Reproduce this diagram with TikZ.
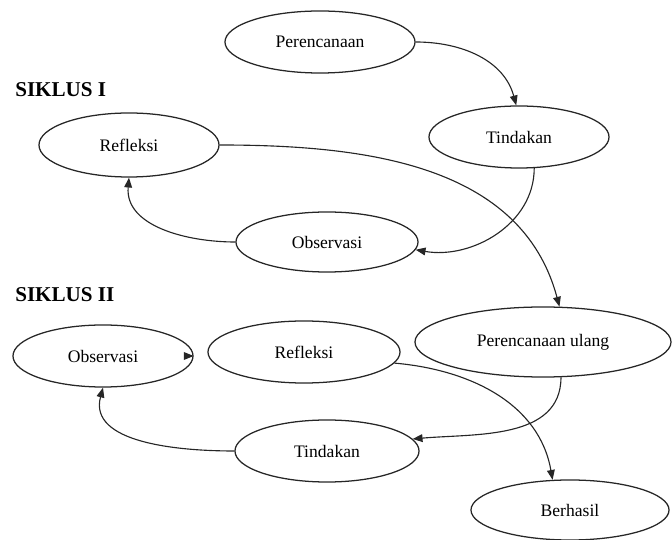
\documentclass[tikz,border=0pt]{standalone}
\usepackage{fontspec}
\setmainfont{Liberation Serif}
\usetikzlibrary{shapes.geometric,arrows.meta}

\begin{document}
\begin{tikzpicture}[x=0.025cm,y=0.025cm,>={Triangle[length=7pt,width=5.5pt]},
el/.style={ellipse,draw=black!85,line width=0.9pt,inner sep=0pt,
font=\fontsize{12.5}{15}\selectfont},
judul/.style={anchor=west,inner sep=0pt,font=\fontsize{15}{18}\selectfont\bfseries}]
\useasboundingbox (0,0) rectangle (672,540);
\node[judul] (s1) at (15,450) {SIKLUS I};
\node[judul] (s2) at (15,245) {SIKLUS II};
\node[el,minimum width=4.75cm,minimum height=1.55cm] (per1) at (320,498) {Perencanaan};
\node[el,minimum width=4.5cm,minimum height=1.55cm] (tin1) at (519,403) {Tindakan};
\node[el,minimum width=4.5cm,minimum height=1.6cm] (ref1) at (129,395) {Refleksi};
\node[el,minimum width=4.55cm,minimum height=1.5cm] (obs1) at (327,298) {Observasi};
\node[el,minimum width=4.5cm,minimum height=1.55cm] (obs2) at (103,184) {Observasi};
\node[el,minimum width=4.8cm,minimum height=1.55cm] (ref2) at (304,188) {Refleksi};
\node[el,minimum width=6.4cm,minimum height=1.75cm] (perul) at (543,198) {Perencanaan ulang};
\node[el,minimum width=4.6cm,minimum height=1.55cm] (tin2) at (327,89) {Tindakan};
\node[el,minimum width=4.95cm,minimum height=1.5cm] (ber) at (570,30) {Berhasil};
\path[->,black!85,line width=0.8pt]
(per1.east) edge[out=0,in=105] (tin1.95)
(tin1.-64) edge[out=-90,in=-10] (obs1.-5)
(obs1.west) edge[out=180,in=-95] (ref1.south)
(ref1.east) edge[out=0,in=105] (perul.65)
(perul.-63) edge[out=-90,in=5] (tin2.8)
(tin2.west) edge[out=180,in=-105] (obs2.south)
([xshift=-5pt]obs2.east) edge (obs2.east)
(ref2.-7) edge[out=-5,in=100] (ber.120);
\end{tikzpicture}
\end{document}
